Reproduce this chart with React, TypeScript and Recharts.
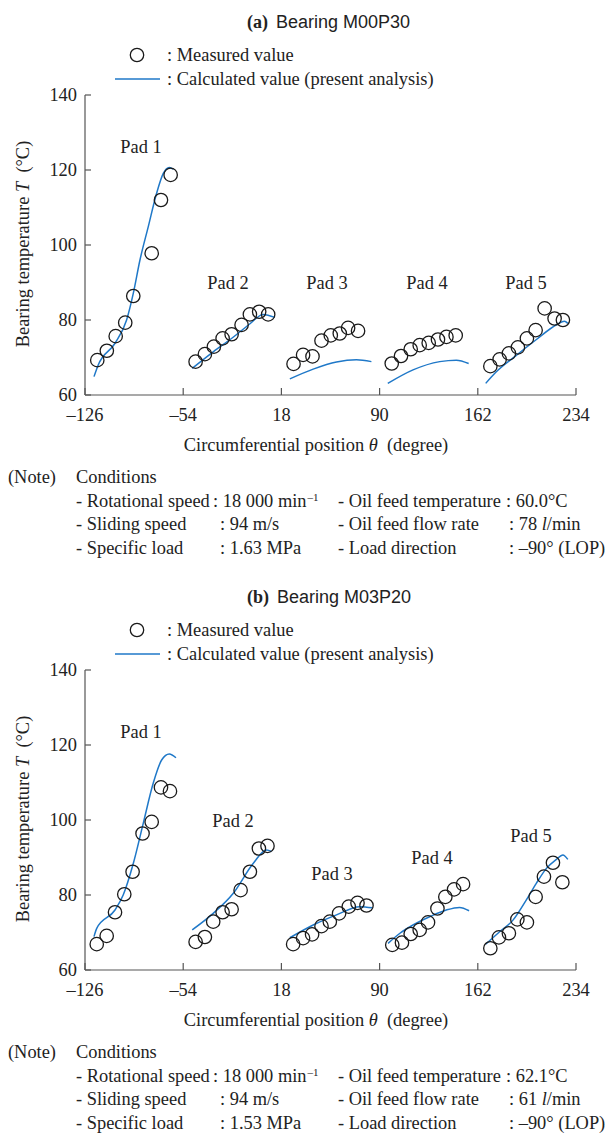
import { ComposedChart, Line, Scatter, XAxis, YAxis } from "recharts";

const xTicks = [-126, -54, 18, 90, 162, 234];
const yTicks = [60, 80, 100, 120, 140];
const padNames = ["Pad 1", "Pad 2", "Pad 3", "Pad 4", "Pad 5"];

// (a) Bearing M00P30 - measured values [theta, T]
const measA1 = [[-117, 69.3], [-110, 71.8], [-103.5, 75.7], [-96.5, 79.3], [-90.6, 86.4], [-77.1, 97.8], [-70.3, 112], [-63.2, 118.7]];
const measA2 = [[-44.9, 68.9], [-38.1, 70.9], [-31.5, 72.9], [-25.1, 75.1], [-18.5, 76.2], [-11.2, 78.7], [-5.1, 81.5], [1.7, 82.2], [8.3, 81.5]];
const measA3 = [[26.9, 68.3], [33.9, 70.7], [40.8, 70.3], [47.4, 74.5], [54.2, 75.9], [60.8, 76.4], [66.9, 77.9], [74.2, 77.1]];
const measA4 = [[98.9, 68.4], [105.7, 70.4], [112.8, 72.2], [119.4, 73.3], [126, 73.9], [132.8, 74.8], [139, 75.5], [145.8, 75.9]];
const measA5 = [[171.2, 67.7], [178, 69.5], [184.8, 71.1], [191.4, 72.7], [198, 75.1], [204.4, 77.3], [211, 83.1], [218.3, 80.4], [224.4, 80]];

// (a) calculated values
const calcA1 = [[-119.4, 64.9], [-116.3, 68], [-104, 73.8], [-95.5, 80], [-90.6, 87.1], [-85.7, 96], [-79.6, 104.9], [-73.5, 113.8], [-68.6, 119.1], [-64.2, 120.7], [-61.3, 120.2]];
const calcA2 = [[-47.4, 67.1], [-32, 71.5], [-17.4, 75.4], [-5, 79], [4.6, 81.5], [13.2, 80.7]];
const calcA3 = [[24.2, 64.3], [41.3, 66.9], [58.4, 68.8], [73, 69.4], [84, 68.9]];
const calcA4 = [[96, 63.1], [114.5, 66.7], [134.1, 68.9], [146.3, 69.3], [155.3, 68.4]];
const calcA5 = [[167.8, 63.1], [175, 66], [190, 70.5], [205, 74.8], [220, 78.8], [225.5, 79.7], [228, 79.1]];

// (b) Bearing M03P20 - measured values
const measB1 = [[-117.4, 66.9], [-110.1, 69.1], [-104, 75.4], [-97.2, 80.2], [-91.1, 86.2], [-83.8, 96.4], [-77.1, 99.5], [-70.3, 108.7], [-63.7, 107.7]];
const measB2 = [[-44.9, 67.5], [-38.1, 68.8], [-32, 72.9], [-25.1, 75.4], [-18.5, 76.2], [-11.9, 81.3], [-5.1, 86.2], [1.5, 92.4], [7.8, 93.1]];
const measB3 = [[26.6, 66.9], [33.9, 68.5], [40.5, 69.5], [47.4, 71.7], [53.5, 72.9], [60.3, 75.1], [67.4, 76.9], [73.8, 77.9], [80.4, 77.2]];
const measB4 = [[99.3, 66.7], [106.4, 67.3], [112.8, 69.6], [119.4, 70.7], [125.5, 72.7], [132.4, 76.4], [138.2, 79.5], [144.6, 81.5], [151.2, 82.9]];
const measB5 = [[171.2, 65.8], [177.5, 68.7], [184.8, 69.8], [191, 73.5], [198, 72.7], [204.4, 79.5], [210.5, 84.9], [217.1, 88.6], [224, 83.4]];

// (b) calculated values
const calcB1 = [[-119.4, 68.9], [-117.4, 71.1], [-104, 76], [-98, 80], [-90.6, 88.4], [-83.3, 99.1], [-76, 109.8], [-69.8, 116], [-64.2, 117.6], [-59.3, 116.6]];
const calcB2 = [[-47.4, 70.7], [-32, 75.1], [-17.4, 80.4], [-2.7, 88.4], [7.1, 92], [10.8, 91.6]];
const calcB3 = [[24.2, 68.6], [41.3, 72], [58.4, 74.7], [75.5, 76.9], [84.8, 76.6]];
const calcB4 = [[96.2, 67.1], [104.9, 69.8], [114.5, 72], [126.7, 74.2], [138.9, 76], [148.6, 76.7], [155.6, 75.8]];
const calcB5 = [[167.8, 66.9], [178, 70.2], [187.8, 73.3], [197.6, 78.7], [204.9, 83.1], [212.3, 87.1], [219.6, 89.5], [224.4, 90.7], [228, 89.5]];

// conditions: rotational speed, sliding speed, specific load, oil temp, oil flow, load direction
const condA = ["18 000", "94 m/s", "1.63 MPa", "60.0°C", "78", "–90° (LOP)"];
const condB = ["18 000", "94 m/s", "1.53 MPa", "62.1°C", "61", "–90° (LOP)"];

const BLUE = "#1f78c8";
const AXIS = "#555";
const SERIF = "'Liberation Serif', 'Times New Roman', serif";
const SANS = "'Liberation Sans', Arial, sans-serif";
const FS = 18.4;

const toPts = (arr: number[][]) => arr.map(([x, y]) => ({ x, y }));
const fmt = (v: number) => (v < 0 ? "–" + Math.abs(v) : String(v));

const XTick = (props: any) => {
  const { x, y, payload } = props;
  return (
    <g>
      <line x1={x} x2={x} y1={y} y2={y - 7} stroke={AXIS} strokeWidth={1.2} />
      <text x={x} y={y + 26} textAnchor="middle" fontFamily={SERIF} fontSize={FS} fill="#222">
        {fmt(payload.value)}
      </text>
    </g>
  );
};

const YTick = (props: any) => {
  const { x, y, payload } = props;
  return (
    <g>
      <line x1={x} x2={x + 6} y1={y} y2={y} stroke={AXIS} strokeWidth={1.2} />
      <text x={x - 8} y={y + 6} textAnchor="end" fontFamily={SERIF} fontSize={FS} fill="#222">
        {payload.value}
      </text>
    </g>
  );
};

const Ring = (props: any) => (
  <circle cx={props.cx} cy={props.cy} r={6.7} fill="none" stroke="#1a1a1a" strokeWidth={1.3} />
);

function Txt({ x, y, children, center, style }: any) {
  return (
    <div
      style={{
        position: "absolute",
        left: x,
        top: y - 10,
        height: 20,
        lineHeight: "20px",
        fontFamily: SERIF,
        fontSize: FS,
        color: "#222",
        whiteSpace: "nowrap",
        transform: center ? "translateX(-50%)" : undefined,
        ...style,
      }}
    >
      {children}
    </div>
  );
}

function Panel({ top, tag, name, meas, calc, padPos, cond }: any) {
  const points = toPts(meas.flat());
  return (
    <div style={{ position: "absolute", left: 0, top, width: 614, height: 575 }}>
      <Txt x={247} y={22} style={{ fontSize: 18 }}>
        <b>({tag})</b>
        <span style={{ fontFamily: SANS, marginLeft: 8 }}>{name}</span>
      </Txt>
      <svg width={614} height={100} style={{ position: "absolute", left: 0, top: 0 }}>
        <circle cx={137} cy={55} r={6.7} fill="none" stroke="#1a1a1a" strokeWidth={1.3} />
        <line x1={115} x2={160} y1={79} y2={79} stroke={BLUE} strokeWidth={1.5} />
      </svg>
      <Txt x={167} y={55}>: Measured value</Txt>
      <Txt x={167} y={79}>: Calculated value (present analysis)</Txt>

      <div style={{ position: "absolute", left: 0, top: 0 }}>
        <ComposedChart width={614} height={470} margin={{ top: 95, right: 38, bottom: 45, left: 45 }}>
          <XAxis
            dataKey="x"
            type="number"
            domain={[-126, 234]}
            ticks={xTicks}
            interval={0}
            height={30}
            tickSize={0}
            tickMargin={0}
            tickLine={false}
            tick={<XTick />}
            axisLine={{ stroke: AXIS, strokeWidth: 1.2 }}
          />
          <YAxis
            dataKey="y"
            type="number"
            domain={[60, 140]}
            ticks={yTicks}
            interval={0}
            width={40}
            tickSize={0}
            tickMargin={0}
            tickLine={false}
            tick={<YTick />}
            axisLine={{ stroke: AXIS, strokeWidth: 1.2 }}
          />
          {calc.map((c: number[][], i: number) => (
            <Line
              key={i}
              data={toPts(c)}
              dataKey="y"
              type="monotone"
              stroke={BLUE}
              strokeWidth={1.5}
              dot={false}
              activeDot={false}
              isAnimationActive={false}
            />
          ))}
          <Scatter data={points} dataKey="y" shape={<Ring />} isAnimationActive={false} />
        </ComposedChart>
      </div>

      {padNames.map((p, i) => (
        <Txt key={p} x={padPos[i][0]} y={padPos[i][1]} center>
          {p}
        </Txt>
      ))}

      <div
        style={{
          position: "absolute",
          left: 23,
          top: 244,
          transform: "translate(-50%, -50%) rotate(-90deg)",
          fontFamily: SERIF,
          fontSize: FS,
          color: "#222",
          whiteSpace: "nowrap",
          lineHeight: "20px",
        }}
      >
        Bearing temperature <i>T</i>&nbsp; (°C)
      </div>
      <Txt x={316} y={445} center>
        Circumferential position <i>θ</i>&nbsp; (degree)
      </Txt>

      <Txt x={8} y={477}>(Note)</Txt>
      <Txt x={76} y={477}>Conditions</Txt>
      <Txt x={76} y={501}>- Rotational speed</Txt>
      <Txt x={213} y={501}>
        : {cond[0]} min<sup style={{ fontSize: 11, verticalAlign: "6px", lineHeight: 0, marginLeft: 1 }}>–1</sup>
      </Txt>
      <Txt x={76} y={524}>- Sliding speed</Txt>
      <Txt x={220} y={524}>: {cond[1]}</Txt>
      <Txt x={76} y={548}>- Specific load</Txt>
      <Txt x={220} y={548}>: {cond[2]}</Txt>
      <Txt x={338} y={501}>- Oil feed temperature</Txt>
      <Txt x={506} y={501}>: {cond[3]}</Txt>
      <Txt x={338} y={524}>- Oil feed flow rate</Txt>
      <Txt x={509} y={524}>
        : {cond[4]} <i>l</i>/min
      </Txt>
      <Txt x={338} y={548}>- Load direction</Txt>
      <Txt x={509} y={548}>: {cond[5]}</Txt>
    </div>
  );
}

export default function App() {
  return (
    <div style={{ position: "absolute", left: 0, top: 0, width: 614, height: 1133, background: "#fff", overflow: "hidden" }}>
      <Panel
        top={0}
        tag="a"
        name="Bearing M00P30"
        meas={[measA1, measA2, measA3, measA4, measA5]}
        calc={[calcA1, calcA2, calcA3, calcA4, calcA5]}
        padPos={[[141, 147], [228, 283], [327, 283], [427, 283], [526, 283]]}
        cond={condA}
      />
      <Panel
        top={575}
        tag="b"
        name="Bearing M03P20"
        meas={[measB1, measB2, measB3, measB4, measB5]}
        calc={[calcB1, calcB2, calcB3, calcB4, calcB5]}
        padPos={[[141, 157], [233, 246], [332, 299], [432, 283], [531, 261]]}
        cond={condB}
      />
    </div>
  );
}
